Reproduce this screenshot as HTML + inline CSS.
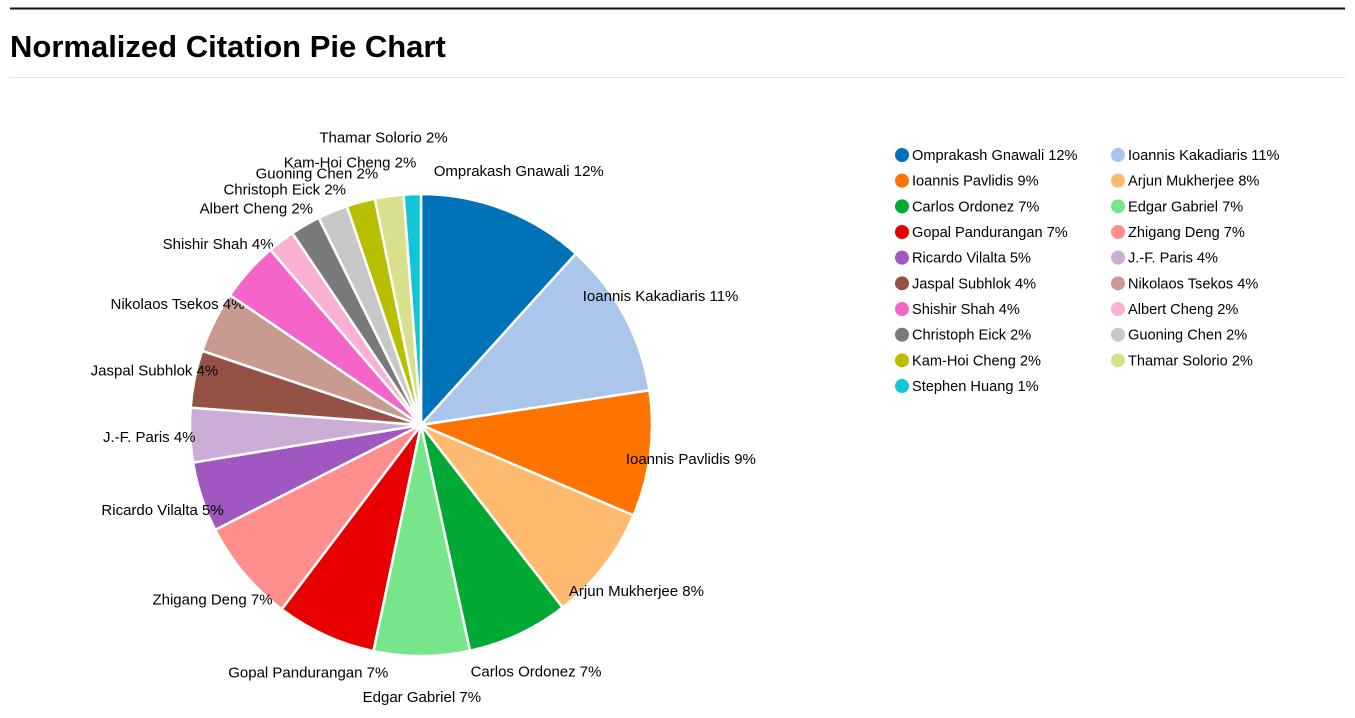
<!DOCTYPE html>
<html><head><meta charset="utf-8"><style>
body{margin:0;background:#fff;font-family:"Liberation Sans",sans-serif;}
</style></head><body>
<svg width="1355" height="713">
<line x1="10" y1="8.5" x2="1345" y2="8.5" stroke="#111" stroke-width="2"/>
<text x="10" y="57" font-size="31" font-weight="bold" fill="#000">Normalized Citation Pie Chart</text>
<line x1="10" y1="77.5" x2="1345" y2="77.5" stroke="#e4e4e4" stroke-width="1"/>
<g id="pie"></g>
<g id="legend"></g>
</svg>
<script>
const names=["Omprakash Gnawali","Ioannis Kakadiaris","Ioannis Pavlidis","Arjun Mukherjee","Carlos Ordonez","Edgar Gabriel","Gopal Pandurangan","Zhigang Deng","Ricardo Vilalta","J.-F. Paris","Jaspal Subhlok","Nikolaos Tsekos","Shishir Shah","Albert Cheng","Christoph Eick","Guoning Chen","Kam-Hoi Cheng","Thamar Solorio","Stephen Huang"];
const values=[11.7,10.9,8.8,8.1,7.1,6.7,7.0,7.2,4.9,3.8,4.0,4.3,4.2,1.9,2.1,2.1,2.0,2.0,1.2];
const pctLabels=["12%","11%","9%","8%","7%","7%","7%","7%","5%","4%","4%","4%","4%","2%","2%","2%","2%","2%","1%"];
const colors=["#0073b8","#aac6ea","#ff7400","#ffba70","#00a933","#77e68a","#e80000","#ff8e8c","#a057c0","#ccadd6","#945244","#c99a90","#f564c8","#fab0d2","#7a7a7a","#c8c8c8","#b8bf00","#d8e08c","#12c4d8"];
const NS="http://www.w3.org/2000/svg";
const cx=421,cy=425,R=231,LR=272;
const total=values.reduce((a,b)=>a+b,0);
const pie=document.getElementById('pie');
function pt(a,r){return [cx+r*Math.sin(a),cy-r*Math.cos(a)];}
let acc=0;
const placed=[];
values.forEach((v,i)=>{
  const a0=acc/total*2*Math.PI; acc+=v; const a1=acc/total*2*Math.PI;
  const p0=pt(a0,R),p1=pt(a1,R);
  const path=document.createElementNS(NS,'path');
  path.setAttribute('d',`M${cx},${cy}L${p0[0]},${p0[1]}A${R},${R} 0 ${a1-a0>Math.PI?1:0} 1 ${p1[0]},${p1[1]}Z`);
  path.setAttribute('fill',colors[i]);path.setAttribute('stroke','#fff');path.setAttribute('stroke-width','2.5');
  
  
  pie.appendChild(path);
  if(v/total<0.015) return;
  const lp=pt((a0+a1)/2,LR);
  let lx=lp[0],ly=lp[1];
  const w=(names[i].length+4)*7.5;
  placed.forEach(p=>{
    if(Math.abs(p.y-ly)<10.5 && Math.abs(p.x-lx)<(p.w+w)/2){ ly=p.y-25; }
  });
  placed.push({x:lx,y:ly,w:w});
  const t=document.createElementNS(NS,'text');
  t.setAttribute('x',lx);t.setAttribute('y',ly+5);t.setAttribute('text-anchor','middle');
  t.setAttribute('font-size','15');t.setAttribute('fill','#000');
  t.textContent=names[i]+' '+pctLabels[i];
  
  
  pie.appendChild(t);
});
const lg=document.getElementById('legend');
names.forEach((n,i)=>{
  const col=i%2,row=Math.floor(i/2);
  const x=902+col*216,y=155+row*25.67;
  const g=document.createElementNS(NS,'g');
  
  
  const c=document.createElementNS(NS,'circle');
  c.setAttribute('cx',x);c.setAttribute('cy',y);c.setAttribute('r',7);c.setAttribute('fill',colors[i]);
  
  
  const t=document.createElementNS(NS,'text');
  t.setAttribute('x',x+10);t.setAttribute('y',y+5);t.setAttribute('font-size','14.6');t.setAttribute('fill','#000');
  t.textContent=n+' '+pctLabels[i];
  
  
  g.appendChild(c);g.appendChild(t);lg.appendChild(g);
});
</script>
</body></html>
